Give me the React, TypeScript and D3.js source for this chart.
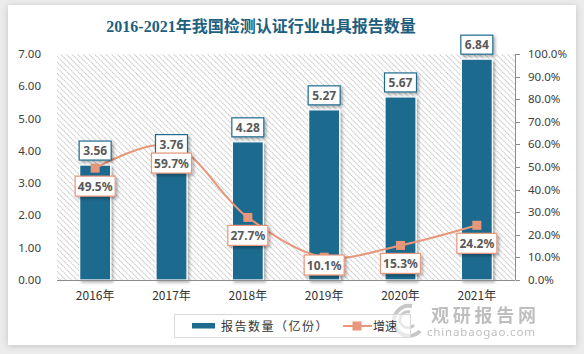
import React from "react";
import * as d3 from "d3";

const categories = ["2016年", "2017年", "2018年", "2019年", "2020年", "2021年"];
const volumes = [3.56, 3.76, 4.28, 5.27, 5.67, 6.84];
const growth = [49.5, 59.7, 27.7, 10.1, 15.3, 24.2];
const leftTicks = [0, 1, 2, 3, 4, 5, 6, 7];
const rightTicks = [0, 10, 20, 30, 40, 50, 60, 70, 80, 90, 100];

const W = 584, H = 354;
const BAR = "#1D6B8E";
const LINE = "#E8977A";
const NUM_FONT = "'Noto Sans', 'DejaVu Sans', sans-serif";
const CJK_FONT = "'Noto Sans CJK SC', 'Noto Sans', sans-serif";

export default function App() {
  const x = d3.scaleBand<string>().domain(categories).range([57, 515]).paddingInner(0).paddingOuter(0);
  const yL = d3.scaleLinear().domain([0, 7]).range([280, 54]);
  const yR = d3.scaleLinear().domain([0, 100]).range([280, 54]);
  const cx = (c: string) => (x(c) as number) + x.bandwidth() / 2;
  const barW = 31;
  const pts: [number, number][] = categories.map((c, i) => [cx(c), yR(growth[i])]);
  const linePath = d3.line().curve(d3.curveCatmullRom.alpha(0.5))(pts) || "";

  return (
    <svg width={W} height={H} style={{ position: "absolute", left: 0, top: 0 }}>
      <defs>
        <pattern id="hatch" width="4" height="4" patternUnits="userSpaceOnUse" patternTransform="rotate(-45)">
          <line x1="0.5" y1="0" x2="0.5" y2="4" stroke="#c2c2c2" strokeWidth="1" strokeDasharray="1.2,0.6" />
        </pattern>
        <filter id="cardShadow" x="-5%" y="-5%" width="110%" height="110%">
          <feDropShadow dx="0" dy="1" stdDeviation="3" floodColor="#000" floodOpacity="0.18" />
        </filter>
        <filter id="shadow" x="-30%" y="-30%" width="160%" height="160%">
          <feDropShadow dx="2" dy="2" stdDeviation="1.5" floodColor="#000" floodOpacity="0.3" />
        </filter>
      </defs>
      <rect x={0} y={0} width={W} height={H} fill="#ececec" />
      <rect x={8} y={5} width={568} height={340} fill="#ffffff" filter="url(#cardShadow)" />

      <text x={261} y={32} textAnchor="middle" fontFamily="'Liberation Serif', 'Noto Sans CJK SC', serif" fontWeight="bold" fontSize={16} fill="#1E5F80">
        2016-2021年我国检测认证行业出具报告数量
      </text>

      {/* plot area background */}
      <rect x={57} y={54} width={458} height={226} fill="url(#hatch)" />

      {/* left axis labels */}
      {leftTicks.map((t) => (
        <text key={"l" + t} x={41} y={yL(t) + 4} textAnchor="end" fontFamily={NUM_FONT} fontSize={11.5} fill="#404040">
          {t.toFixed(2)}
        </text>
      ))}

      {/* right axis */}
      <line x1={515.5} x2={515.5} y1={54} y2={280} stroke="#8c8c8c" strokeWidth={1} />
      {rightTicks.map((t) => (
        <g key={"r" + t}>
          <line x1={515.5} x2={520} y1={Math.round(yR(t)) + 0.5} y2={Math.round(yR(t)) + 0.5} stroke="#8c8c8c" />
          <text x={528} y={yR(t) + 4} fontFamily={NUM_FONT} fontSize={11.5} fill="#404040">
            {t.toFixed(1) + "%"}
          </text>
        </g>
      ))}

      {/* bars */}
      {categories.map((c, i) => (
        <rect key={"b" + c} x={cx(c) - barW / 2} y={yL(volumes[i])} width={barW} height={280 - yL(volumes[i])}
          fill={BAR} stroke="#ffffff" strokeWidth={1.2} filter="url(#shadow)" />
      ))}

      {/* x axis */}
      <line x1={57} x2={515} y1={280.5} y2={280.5} stroke="#8c8c8c" strokeWidth={1} />
      {categories.map((c) => (
        <text key={"x" + c} x={cx(c)} y={300} textAnchor="middle" fontFamily={CJK_FONT} fontSize={12} fill="#333">
          {c}
        </text>
      ))}

      {/* growth line */}
      <path d={linePath} fill="none" stroke={LINE} strokeWidth={2} />
      {pts.map(([px, py], i) => (
        <rect key={"m" + i} x={px - 4.5} y={py - 4.5} width={9} height={9} fill={LINE} />
      ))}

      {/* bar labels */}
      {categories.map((c, i) => {
        const by = yL(volumes[i]) - 5;
        return (
          <g key={"bl" + c}>
            <rect x={cx(c) - 16} y={by - 19} width={32} height={19} fill="#fff" stroke={BAR} strokeWidth={1.2} filter="url(#shadow)" />
            <text x={cx(c)} y={by - 5} textAnchor="middle" fontFamily={NUM_FONT} fontWeight="bold" fontSize={12} fill="#595959">
              {volumes[i].toFixed(2)}
            </text>
          </g>
        );
      })}

      {/* growth labels */}
      {categories.map((c, i) => {
        let top = yR(growth[i]) + 8;
        if (top + 20 > 275) top = 275 - 20;
        return (
          <g key={"gl" + c}>
            <rect x={cx(c) - 20} y={top} width={40} height={20} fill="#fff" stroke={LINE} strokeWidth={1.2} filter="url(#shadow)" />
            <text x={cx(c)} y={top + 14.5} textAnchor="middle" fontFamily={NUM_FONT} fontWeight="bold" fontSize={12} fill="#595959">
              {growth[i].toFixed(1) + "%"}
            </text>
          </g>
        );
      })}

      {/* watermark */}
      <g opacity={0.55}>
        <path d="M 412 306 A 15 15 0 1 0 420 331" fill="none" stroke="#9a9a9a" strokeWidth={4} />
        <path d="M 410 312 A 8 8 0 1 0 414 325" fill="none" stroke="#9a9a9a" strokeWidth={3} />
        <text x={431} y={322} fontFamily={CJK_FONT} fontWeight="bold" fontSize={18} fill="#8a8a8a" textLength={105}>观研报告网</text>
        <text x={427} y={336} fontFamily={NUM_FONT} fontSize={11.5} fill="#8a8a8a" textLength={108}>chinabaogao.com</text>
      </g>

      {/* legend */}
      <rect x={174.5} y={314.5} width={236} height={23} fill="#fff" fillOpacity={0.6} stroke="#d9d9d9" />
      <rect x={192} y={323} width={23} height={5.5} fill={BAR} />
      <text x={221} y={330.5} fontFamily={CJK_FONT} fontSize={12} fill="#333" letterSpacing={1.5}>报告数量（亿份）</text>
      <line x1={343} x2={372} y1={326} y2={326} stroke={LINE} strokeWidth={2} />
      <rect x={352.5} y={321.5} width={9} height={9} fill={LINE} />
      <text x={373} y={330.5} fontFamily={CJK_FONT} fontSize={12} fill="#333">增速</text>
    </svg>
  );
}
